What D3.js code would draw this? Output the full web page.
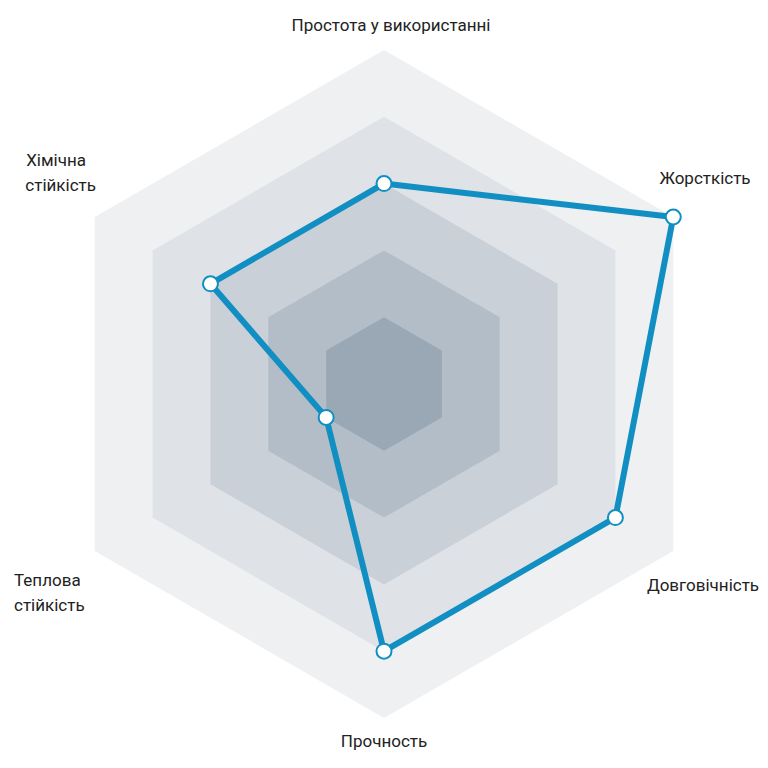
<!DOCTYPE html>
<html><head><meta charset="utf-8">
<script src="https://cdn.jsdelivr.net/npm/d3@7"></script>
<style>body{margin:0;background:#fff}text{font-family:Roboto,sans-serif;font-size:17px;fill:#222}</style>
</head><body><svg id="c" width="768" height="768"></svg>
<script>
const axes = ['Простота у використанні', 'Жорсткість', 'Довговічність', 'Прочность', 'Теплова стійкість', 'Хімічна стійкість']
const values = [3, 5, 4, 4, 1, 3]
const levels = [5, 4, 3, 2, 1]
const levelColors = ['#eef0f2', '#dfe3e7', '#c9d0d8', '#b3bdc8', '#9aa8b6']

const svg = d3.select('#c')
const cx = 384, cy = 384
const r = d3.scaleLinear().domain([0, 5]).range([0, 334])
const ang = i => -Math.PI / 2 + i * Math.PI / 3
const pt = (i, v) => [cx + r(v) * Math.cos(ang(i)), cy + r(v) * Math.sin(ang(i))]
const line = d3.line().curve(d3.curveLinearClosed)

svg.selectAll('path.lvl').data(levels).join('path')
  .attr('d', l => line(axes.map((_, i) => pt(i, l))))
  .attr('fill', (_, k) => levelColors[k])

svg.append('path')
  .attr('d', line(values.map((v, i) => pt(i, v))))
  .attr('fill', 'none').attr('stroke', '#118fc2').attr('stroke-width', 6)
  .attr('stroke-linejoin', 'round')

svg.selectAll('circle').data(values).join('circle')
  .attr('cx', (v, i) => pt(i, v)[0]).attr('cy', (v, i) => pt(i, v)[1])
  .attr('r', 7.5).attr('fill', '#fff').attr('stroke', '#118fc2').attr('stroke-width', 2)

// labels
const labels = [
  { lines: ['Простота у використанні'], x: 391, y: 31, a: 'middle' },
  { lines: ['Жорсткість'], x: 705, y: 184, a: 'middle' },
  { lines: ['Довговічність'], x: 703, y: 591, a: 'middle' },
  { lines: ['Прочность'], x: 384, y: 747, a: 'middle' },
  { lines: ['Теплова', 'стійкість'], x: 14, y: 586, a: 'start' },
  { lines: ['Хімічна', 'стійкість'], x: 96, y: 166, a: 'end' }
]
labels.forEach(l => {
  const t = svg.append('text').attr('x', l.x).attr('y', l.y).attr('text-anchor', l.a)
  l.lines.forEach((s, k) => t.append('tspan').attr('x', l.a === 'end' && k === 0 ? l.x - 10 : l.x).attr('dy', k ? 25 : 0).text(s))
})
</script></body></html>
